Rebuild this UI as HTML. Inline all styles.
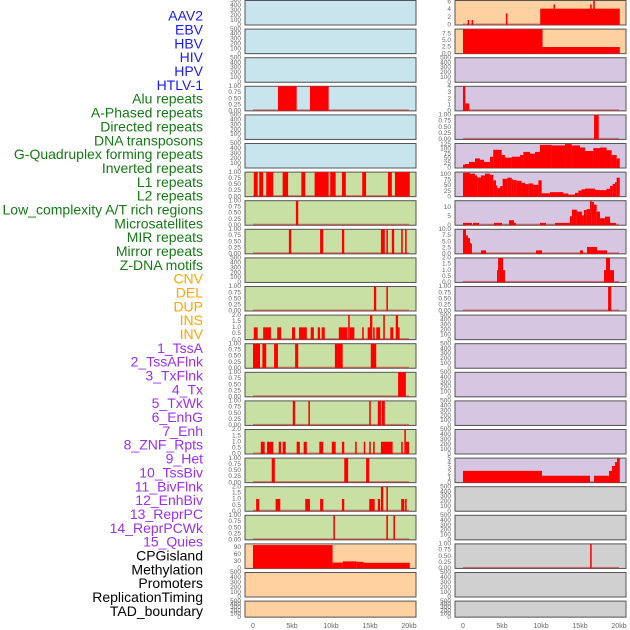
<!DOCTYPE html>
<html><head><meta charset="utf-8">
<style>
html,body{margin:0;padding:0;background:#fff;}
svg{display:block;font-family:"Liberation Sans",sans-serif;}
</style></head>
<body>
<svg id="chart" width="630" height="630" viewBox="0 0 630 630"></svg>
<script>
const labels = ["AAV2","EBV","HBV","HIV","HPV","HTLV-1","Alu repeats","A-Phased repeats","Directed repeats","DNA transposons","G-Quadruplex forming repeats","Inverted repeats","L1 repeats","L2 repeats","Low_complexity A/T rich regions","Microsatellites","MIR repeats","Mirror repeats","Z-DNA motifs","CNV","DEL","DUP","INS","INV","1_TssA","2_TssAFlnk","3_TxFlnk","4_Tx","5_TxWk","6_EnhG","7_Enh","8_ZNF_Rpts","9_Het","10_TssBiv","11_BivFlnk","12_EnhBiv","13_ReprPC","14_ReprPCWk","15_Quies","CPGisland","Methylation","Promoters","ReplicationTiming","TAD_boundary"];
const labelGroups = ["v","v","v","v","v","v","r","r","r","r","r","r","r","r","r","r","r","r","r","c","c","c","c","c","s","s","s","s","s","s","s","s","s","s","s","s","s","s","s","o","o","o","o","o"];
const xTicks = [0,5,10,15,20];
const xTickLabels = ["0","5kb","10kb","15kb","20kb"];

const L4 = [[3.2,5.6,1],[7.3,9.7,1]];
const L7 = [[0.1,0.6,1],[0.8,1.3,1],[1.7,2.6,1],[3.8,4.5,1],[6.2,6.7,1],[7.9,9.7,1],[9.9,10.6,1],[11.4,11.9,1],[14,14.5,1],[17.3,17.8,1],[18.2,20.1,1]];
const L8 = [[5.5,5.8,1]];
const L9 = [[4.6,4.9,1],[8.6,9.0,1],[11.4,11.7,1],[16.4,16.9,1],[17.1,17.3,1],[17.8,18.1,1],[19,19.2,1],[19.5,19.7,1]];
const L11 = [[15.5,15.8,1],[17.1,17.3,1]];
const L12 = [[0.1,0.6,1],[1.3,2.3,1],[3.1,3.6,1],[5,5.4,1],[5.9,6.9,1],[7.4,7.8,1],[8.3,8.6,1],[8.8,9.2,1],[11,12.1,1],[12.2,12.4,2],[12.4,13,1],[14,14.2,1],[14.7,15,1],[15,15.3,2],[15.4,15.6,1],[15.8,16.3,1],[16.7,16.9,2],[17.6,18,1],[18.3,18.6,2],[18.6,18.8,1]];
const L13 = [[0,0.9,1],[1.2,1.7,1],[2.7,3.2,1],[5.4,5.8,1],[10.5,11.5,1],[15.1,15.8,1]];
const L14 = [[18.6,19.6,1]];
const L15 = [[5.1,5.4,1],[7.1,7.3,1],[14.9,15.1,1],[16,16.4,1],[16.5,16.9,1]];
const L16 = [[1,1.5,1],[1.8,2.6,1],[3.3,3.6,1],[3.8,4.2,1],[5.6,6,1],[6.5,6.9,1],[8.5,9,1],[10.1,10.6,1],[11.4,11.7,1],[13.1,13.3,1],[14.2,14.4,1],[14.9,15.1,1],[15.4,15.6,1],[16.4,17.9,1],[19,19.2,1],[19.4,19.6,2],[19.6,20,1]];
const L17 = [[2.4,2.8,1],[11.7,12.2,1],[14.5,14.9,1]];
const L18 = [[0.4,0.8,1],[2.9,3.5,1],[6.7,7.3,1],[8.6,9,1],[11.4,11.7,1],[14.9,15.6,1],[16,16.3,1],[16.4,16.7,2],[17.1,17.3,2],[19,19.4,1],[19.5,19.7,1]];
const L19 = [[10.3,10.5,1],[17.1,17.3,1],[18,18.2,1]];
const L20 = [[0,10.2,100],[10.2,11.5,25],[11.5,13.3,30],[13.3,14.2,28],[14.2,20.1,24]];

const R1 = [[9.9,20.1,4.2],[0.6,0.8,1.3],[1.1,1.3,1.3],[5.5,5.7,3],[11.6,11.8,5.3],[16.3,16.5,5.3],[16.7,16.9,6.3]];
const R2 = [[0,10.2,9.3],[10.2,20.1,2.5]];
const R4 = [[0,0.3,4],[0.3,0.8,1.2]];
const R5 = [[16.8,17.4,1]];
const R6breaks = [0,0.26,0.77,1.54,2.18,2.69,3.46,3.88,4.96,5.38,6.24,7.31,7.74,8.59,9.23,9.87,11.37,13.08,13.93,15,15.64,16.71,17.56,18.4,19.06,19.7,20.1];
const R6values = [18,21,32,50,43,32,59,95,68,54,59,68,84,75,84,121,118,125,118,107,89,104,107,93,68,50];
const R7breaks = [0,0.9,1.54,1.84,2.31,2.82,3.46,3.88,4.23,4.4,4.74,5.08,5.68,6.24,6.45,6.88,7.52,7.95,8.38,9.02,9.66,10.09,11.15,12.86,13.5,14.36,14.79,15.21,15.64,16.92,17.56,18.4,18.85,19.19,19.49,19.7,20.1];
const R7values = [107,103,95,86,95,103,98,73,50,38,47,80,85,77,74,71,62,56,59,53,73,15,20,14,9,17,27,33,36,30,29,35,48,57,65,85];
const R8 = [[0,1.15,1.3],[1.28,2.05,1.3],[3.97,5,1.3],[5.9,6.54,2.8],[6.54,6.8,1.3],[9.87,10.64,1.3],[11.8,13.7,1.3],[13.7,13.97,5],[13.97,14.6,8.7],[14.6,15.25,7.6],[15.25,15.5,5.5],[15.5,15.85,8.5],[15.85,16.28,9],[16.28,16.5,13.5],[16.5,16.8,13],[16.8,17.14,11.5],[17.14,17.56,7.6],[17.56,18.2,3.9],[18.2,18.85,4.8],[18.85,19.6,1.3]];
const R9 = [[0,0.38,10],[0.38,0.64,7.5],[0.64,0.9,6.4],[0.9,1.03,4.4],[1.03,1.15,4],[2.31,2.95,1.4],[9.36,10.13,1.4],[15,15.38,1.4],[15.9,17.18,2.8],[17.18,18.46,1.4]];
const R10 = [[4.36,4.5,1],[4.5,5.13,2],[5.13,5.38,1],[18.08,18.33,1],[18.33,18.85,2],[18.85,19.36,1]];
const R11 = [[18.6,19,1]];
const R17 = [[0,10.13,2.4],[10.13,16.28,1.4],[16.8,18.72,1.4],[18.72,19.1,2.4],[19.1,19.49,3.4],[19.49,19.75,4.2],[19.75,20.1,5]];
const R20 = [[16.3,16.5,1]];

const tEmpty = [0,100,200,300,400,500];
const tUnit = [0,0.25,0.5,0.75,1];
const tTwo = [0,0.5,1,1.5,2];

function prof(b,v){const o=[];for(let i=0;i<v.length;i++)o.push([b[i],b[i+1],v[i]]);return o;}

const BLUE="#c8e4ec",GREEN="#c8e0a4",ORANGE="#ffd0a0",PURPLE="#d6c6e2",GRAY="#d0d0d0";
const leftTracks = [
 [null,500,tEmpty,0,BLUE],[null,500,tEmpty,0,BLUE],[null,500,tEmpty,0,BLUE],
 [L4,1,tUnit,2,BLUE],[null,500,tEmpty,0,BLUE],[null,500,tEmpty,0,BLUE],
 [L7,1,tUnit,2,GREEN],[L8,1,tUnit,2,GREEN],[L9,1,tUnit,2,GREEN],[null,500,tEmpty,0,GREEN],
 [L11,1,tUnit,2,GREEN],[L12,2,tTwo,1,GREEN],[L13,1,tUnit,2,GREEN],[L14,1,tUnit,2,GREEN],
 [L15,1,tUnit,2,GREEN],[L16,2,tTwo,1,GREEN],[L17,1,tUnit,2,GREEN],[L18,2,tTwo,1,GREEN],
 [L19,1,tUnit,2,GREEN],[L20,105,[0,30,60,90],0,ORANGE],[null,500,tEmpty,0,ORANGE],[null,500,tEmpty,0,ORANGE]
];
const rightTracks = [
 [R1,6.3,[0,2,4,6],0,ORANGE],[R2,9.3,[0,2.5,5,7.5],1,ORANGE],[null,500,tEmpty,0,PURPLE],
 [R4,4,[0,1,2,3,4],0,PURPLE],[R5,1,tUnit,2,PURPLE],[prof(R6breaks,R6values),128,[0,25,50,75,100,125],0,PURPLE],
 [prof(R7breaks,R7values),110,[0,25,50,75,100],0,PURPLE],[R8,13.7,[0,5,10],0,PURPLE],[R9,10,[0,2.5,5,7.5,10],1,PURPLE],
 [R10,2,tTwo,1,PURPLE],[R11,1,tUnit,2,PURPLE],[null,500,tEmpty,0,PURPLE],[null,500,tEmpty,0,PURPLE],
 [null,500,tEmpty,0,PURPLE],[null,500,tEmpty,0,PURPLE],[null,500,tEmpty,0,PURPLE],
 [R17,5,[0,1,2,3,4,5],0,PURPLE],[null,500,tEmpty,0,GRAY],[null,500,tEmpty,0,GRAY],
 [R20,1,tUnit,2,GRAY],[null,500,tEmpty,0,GRAY],[null,500,tEmpty,0,GRAY]
];

const NS="http://www.w3.org/2000/svg";
const svg=document.getElementById("chart");
function mk(tag,attrs,parent){const e=document.createElementNS(NS,tag);for(const k in attrs)e.setAttribute(k,attrs[k]);(parent||svg).appendChild(e);return e;}

const groupColor={v:"#1a1aff",r:"#157a15",c:"#ffa500",s:"#9b30f0",o:"#000"};
labels.forEach((t,i)=>{
  const el=mk("text",{x:203,y:17+i*13.84,"text-anchor":"end","dominant-baseline":"middle","font-size":"14",fill:groupColor[labelGroups[i]]});
  el.textContent=t;
  
  
});

const PITCH=28.6, PW=171;
function drawCol(tracks,frameX,tickX,col){
  const xs=kb=>frameX+8+kb*7.8;
  tracks.forEach((tr,i)=>{
    const [segs,ymax,ticks,dec,bg]=tr;
    const top=0.5+PITCH*i, h=(i===21)?16:24.5, bot=top+h;
    const ys=v=>bot-v/ymax*h;
    const g=mk("g",{});
    
    
    mk("rect",{x:frameX+0.5,y:top+0.5,width:PW,height:h,fill:"#999"},g);
    mk("rect",{x:frameX,y:top,width:PW,height:h,fill:bg,stroke:"#555","stroke-width":1},g);
    if(segs){
      mk("rect",{x:xs(0),y:bot-1.5,width:xs(20)-xs(0),height:1.5,fill:"rgba(200,40,40,0.55)"},g);
      segs.forEach(s=>{
        const r=mk("rect",{x:xs(s[0]),y:ys(s[2]),width:Math.max(0.8,xs(s[1])-xs(s[0])),height:bot-ys(s[2]),fill:"#ff0000"},g);
        
        
      });
    }
    ticks.forEach(t=>{
      const tl=mk("text",{x:tickX,y:ys(t),"text-anchor":"end","dominant-baseline":"middle","font-size":"6.5",fill:"#666"},g);
      tl.textContent=t.toFixed(dec);
      
      
    });
  });
  xTicks.forEach((t,j)=>{
    const el=mk("text",{x:xs(t),y:628,"text-anchor":"middle","font-size":"7",fill:"#666"});
    el.textContent=xTickLabels[j];
    
    
  });
}
drawCol(leftTracks,245,241,'left');
drawCol(rightTracks,455,451,'right');
</script>
</body></html>
